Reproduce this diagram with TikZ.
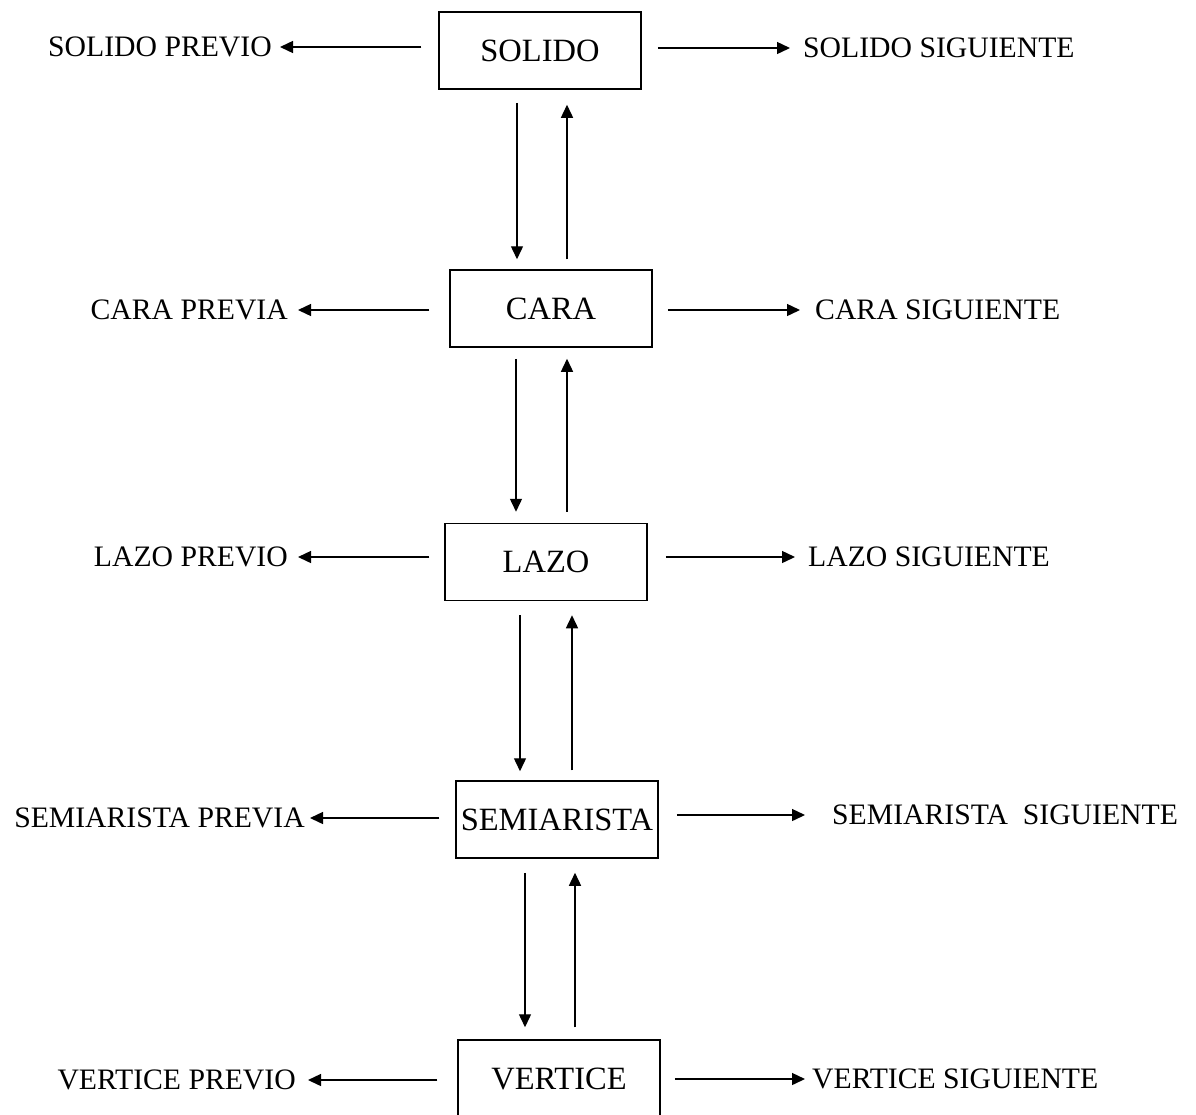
\documentclass[tikz,border=0pt]{standalone}
\usepackage{fontspec}
\setmainfont{Liberation Serif}
\usetikzlibrary{arrows.meta}
\begin{document}
\begin{tikzpicture}[x=1pt,y=-1pt,
  every node/.style={font=\fontsize{29.7}{34}\selectfont},
  boxnode/.style={draw, line width=1.5pt, minimum width=202pt, minimum height=77pt,
    inner sep=0pt, text height=21pt, text depth=0pt,
    font=\fontsize{32.5}{36}\selectfont},
  lbl/.style={inner sep=0pt, text height=19.5pt, text depth=0pt},
  arr/.style={line width=1.4pt, -{Triangle[length=13pt,width=12pt]}}]
\useasboundingbox (0,0) rectangle (1196,1114);

% entity boxes
\node[boxnode] (sol) at (540,50.5) {SOLIDO};
\node[boxnode] (car) at (551,308.5) {CARA};
\node[boxnode] (laz) at (546,562) {LAZO};
\node[boxnode] (sem) at (557,819.5) {SEMIARISTA};
\node[boxnode] (ver) at (559,1078.5) {VERTICE};

% previous / next labels
\node[lbl, anchor=east] (solp) at (272,47) {SOLIDO PREVIO};
\node[lbl, anchor=west] (sols) at (803,48) {SOLIDO SIGUIENTE};
\node[lbl, anchor=east] (carp) at (288,310) {CARA PREVIA};
\node[lbl, anchor=west] (cars) at (815,310) {CARA SIGUIENTE};
\node[lbl, anchor=east] (lazp) at (288,557) {LAZO PREVIO};
\node[lbl, anchor=west] (lazs) at (808,557) {LAZO SIGUIENTE};
\node[lbl, anchor=east] (semp) at (305,818) {SEMIARISTA PREVIA};
\node[lbl, anchor=west] (sems) at (832,815) {SEMIARISTA\ \ SIGUIENTE};
\node[lbl, anchor=east] (verp) at (296,1080) {VERTICE PREVIO};
\node[lbl, anchor=west] (vers) at (812,1079) {VERTICE SIGUIENTE};

% horizontal links
\draw[arr, shorten <=17pt, shorten >=8pt]  (sol.west |- solp.east) -- (solp.east);
\draw[arr, shorten <=16pt, shorten >=13pt] (sol.east |- sols.west) -- (sols.west);
\draw[arr, shorten <=20pt, shorten >=10pt] (car.west |- carp.east) -- (carp.east);
\draw[arr, shorten <=15pt, shorten >=15pt] (car.east |- cars.west) -- (cars.west);
\draw[arr, shorten <=15pt, shorten >=10pt] (laz.west |- lazp.east) -- (lazp.east);
\draw[arr, shorten <=18pt, shorten >=13pt] (laz.east |- lazs.west) -- (lazs.west);
\draw[arr, shorten <=16pt, shorten >=5pt]  (sem.west |- semp.east) -- (semp.east);
\draw[arr, shorten <=18pt, shorten >=27pt] (sem.east |- sems.west) -- (sems.west);
\draw[arr, shorten <=20pt, shorten >=12pt] (ver.west |- verp.east) -- (verp.east);
\draw[arr, shorten <=14pt, shorten >=7pt]  (ver.east |- vers.west) -- (vers.west);

% vertical links: down and up between levels
\coordinate (d1) at (517,0);  \coordinate (u1) at (567,0);
\coordinate (d2) at (516,0);  \coordinate (u2) at (567,0);
\coordinate (d3) at (520,0);  \coordinate (u3) at (572,0);
\coordinate (d4) at (525,0);  \coordinate (u4) at (575,0);

\draw[arr, shorten <=13pt, shorten >=10pt] (d1 |- sol.south) -- (d1 |- car.north);
\draw[arr, shorten <=10pt, shorten >=15pt] (u1 |- car.north) -- (u1 |- sol.south);
\draw[arr, shorten <=11pt, shorten >=11pt] (d2 |- car.south) -- (d2 |- laz.north);
\draw[arr, shorten <=11pt, shorten >=11pt] (u2 |- laz.north) -- (u2 |- car.south);
\draw[arr, shorten <=14pt, shorten >=9pt]  (d3 |- laz.south) -- (d3 |- sem.north);
\draw[arr, shorten <=10pt, shorten >=14pt] (u3 |- sem.north) -- (u3 |- laz.south);
\draw[arr, shorten <=14pt, shorten >=12pt] (d4 |- sem.south) -- (d4 |- ver.north);
\draw[arr, shorten <=12pt, shorten >=14pt] (u4 |- ver.north) -- (u4 |- sem.south);
\end{tikzpicture}
\end{document}
